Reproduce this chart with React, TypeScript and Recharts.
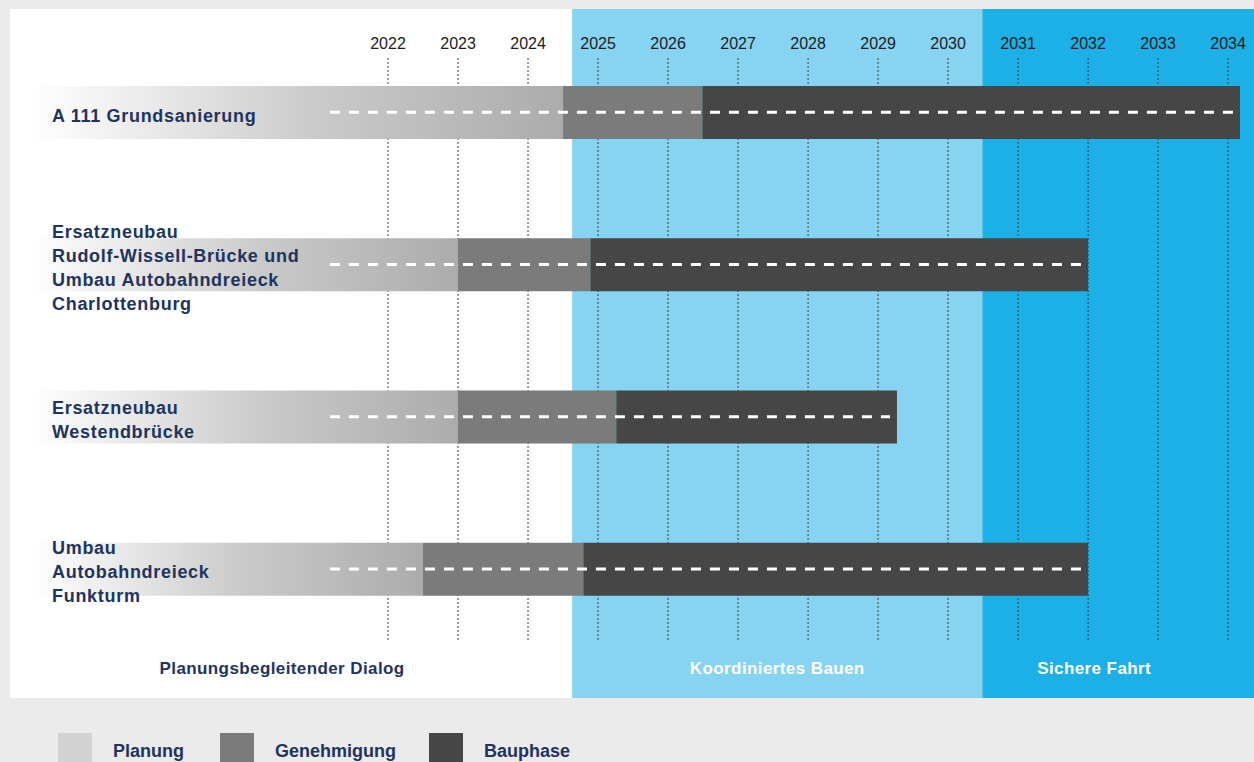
import React from 'react';
import {
  BarChart,
  Bar,
  XAxis,
  YAxis,
  ReferenceArea,
  ReferenceLine,
  LabelList,
  Legend,
} from 'recharts';

// ---------- data ----------
const projects = [
  'A 111 Grundsanierung',
  'Ersatzneubau Rudolf-Wissell-Brücke und Umbau Autobahndreieck Charlottenburg',
  'Ersatzneubau Westendbrücke',
  'Umbau Autobahndreieck Funkturm',
];
const projectLabelLines = [
  ['A 111 Grundsanierung'],
  ['Ersatzneubau', 'Rudolf-Wissell-Brücke und', 'Umbau Autobahndreieck', 'Charlottenburg'],
  ['Ersatzneubau', 'Westendbrücke'],
  ['Umbau', 'Autobahndreieck', 'Funkturm'],
];
const planningStart = [2016.9, 2016.9, 2016.9, 2016.9];
const planningEnd = [2024.5, 2023.0, 2023.0, 2022.5];
const approvalEnd = [2026.49, 2024.89, 2025.26, 2024.79];
const constructionEnd = [2034.17, 2032.0, 2029.27, 2032.0];
const roadMarkingStart = 2021.17;

const years = [2022, 2023, 2024, 2025, 2026, 2027, 2028, 2029, 2030, 2031, 2032, 2033, 2034];

const phaseNames = ['Planungsbegleitender Dialog', 'Koordiniertes Bauen', 'Sichere Fahrt'];
const phaseBounds = [2016.6, 2024.63, 2030.49, 2034.37];

const legendNames = ['Planung', 'Genehmigung', 'Bauphase'];

// ---------- styles ----------
const FONT = '"Liberation Sans", Arial, Helvetica, sans-serif';
const NAVY = '#20345f';
const PAD_TOP = 27;
const PAD_BOTTOM = 53;
const phaseFills = ['#ffffff', '#87d3f2', '#1cb0e7'];
const phaseLabelFills = [NAVY, '#ffffff', '#ffffff'];
const phaseLabelDx = [-9, 0, -24];
const legendFills = ['#d2d2d2', '#7b7b7b', '#474747'];
const legendLefts = [58, 220, 429];
const APPROVAL = '#7b7b7b';
const BUILD = '#464646';

const rows = projects.map((name, i) => ({
  name,
  offset: planningStart[i],
  planung: planningEnd[i] - planningStart[i],
  genehmigung: approvalEnd[i] - planningEnd[i],
  bauphase: constructionEnd[i] - approvalEnd[i],
}));

const YearTick = (props: any) => {
  const { x, payload } = props;
  return (
    <text
      x={x}
      y={49}
      textAnchor="middle"
      fontFamily={FONT}
      fontSize={16}
      fontWeight={500}
      fill="#1c1c1c"
    >
      {payload.value}
    </text>
  );
};

const ProjectLabel = (props: any) => {
  const { x, y, height, value } = props;
  const idx = projects.indexOf(value);
  const lines = projectLabelLines[idx] || [String(value)];
  const cy = y + height / 2 + 3;
  const top = cy - ((lines.length - 1) * 24) / 2;
  const tx = x + 21;
  return (
    <text
      x={tx}
      y={top}
      fontFamily={FONT}
      fontWeight={700}
      fontSize={18}
      letterSpacing={0.7}
      fill={NAVY}
      dominantBaseline="central"
    >
      {lines.map((l, k) => (
        <tspan key={k} x={tx} y={top + k * 24}>
          {l}
        </tspan>
      ))}
    </text>
  );
};

const gridShape = (p: any) => {
  const top = Math.min(p.y1, p.y2);
  const bottom = Math.max(p.y1, p.y2);
  return (
    <line
      x1={p.x1}
      x2={p.x2}
      y1={top + 48}
      y2={bottom - 58}
      stroke="#3c3c3c"
      strokeWidth={1}
      strokeDasharray="2 2"
    />
  );
};

const makePanelShape = (fill: string) => (p: any) => (
  <rect
    x={p.x}
    y={p.y - PAD_TOP}
    width={p.width}
    height={p.height + PAD_TOP + PAD_BOTTOM}
    fill={fill}
    stroke="none"
  />
);

const LegendContent = () => (
  <div style={{ position: 'relative', width: 700, height: 40 }}>
    {legendNames.map((n, i) => (
      <div
        key={n}
        style={{
          position: 'absolute',
          left: legendLefts[i],
          top: 11,
          display: 'flex',
          alignItems: 'center',
        }}
      >
        <div style={{ width: 34, height: 32, background: legendFills[i] }} />
        <span
          style={{
            marginLeft: 21,
            fontFamily: FONT,
            fontWeight: 700,
            fontSize: 18,
            color: NAVY,
            marginTop: 5,
          }}
        >
          {n}
        </span>
      </div>
    ))}
  </div>
);

export default function App() {
  return (
    <div
      style={{
        position: 'absolute',
        left: 0,
        top: 0,
        width: 1254,
        height: 762,
        background: '#ebebeb',
        overflow: 'hidden',
      }}
    >
      <BarChart
        width={1254}
        height={762}
        data={rows}
        layout="vertical"
        margin={{ top: 9, right: 0, bottom: 64, left: 10 }}
        barSize={53}
      >
        <defs>
          <linearGradient id="planGrad" x1="0" y1="0" x2="1" y2="0">
            <stop offset="0%" stopColor="#ffffff" />
            <stop offset="20%" stopColor="#ececec" />
            <stop offset="55%" stopColor="#c9c9c9" />
            <stop offset="100%" stopColor="#acacac" />
          </linearGradient>
        </defs>
        {phaseNames.map((name, i) => (
          <ReferenceArea
            key={name}
            x1={phaseBounds[i]}
            x2={phaseBounds[i + 1]}
            fill={phaseFills[i]}
            fillOpacity={1}
            stroke="none"
            ifOverflow="visible"
            zIndex={-200}
            shape={makePanelShape(phaseFills[i])}
            label={{
              value: name,
              position: 'insideBottom',
              offset: -29,
              dx: phaseLabelDx[i],
              fill: phaseLabelFills[i],
              fontSize: 17,
              fontWeight: 700,
              letterSpacing: 0.4,
              fontFamily: FONT,
            }}
          />
        ))}
        {years.map((yr) => (
          <ReferenceLine key={yr} x={yr} shape={gridShape} zIndex={-150} ifOverflow="visible" />
        ))}
        <XAxis
          type="number"
          domain={[phaseBounds[0], phaseBounds[3]]}
          allowDataOverflow
          ticks={years}
          orientation="top"
          height={1}
          axisLine={false}
          tickLine={false}
          tick={<YearTick />}
          interval={0}
        />
        <YAxis
          type="category"
          dataKey="name"
          hide
          width={0}
          padding={{ top: PAD_TOP - 1, bottom: PAD_BOTTOM }}
        />
        <Bar dataKey="offset" stackId="p" fill="transparent" isAnimationActive={false} />
        <Bar dataKey="planung" stackId="p" fill="url(#planGrad)" isAnimationActive={false}>
          <LabelList dataKey="name" content={<ProjectLabel />} />
        </Bar>
        <Bar dataKey="genehmigung" stackId="p" fill={APPROVAL} isAnimationActive={false} />
        <Bar dataKey="bauphase" stackId="p" fill={BUILD} isAnimationActive={false} />
        {projects.map((name, i) => (
          <ReferenceLine
            key={name}
            segment={[
              { x: roadMarkingStart, y: name },
              { x: constructionEnd[i] - 0.1, y: name },
            ]}
            stroke="#ffffff"
            strokeWidth={3}
            strokeDasharray="10 9"
            zIndex={450}
          />
        ))}
        <Legend
          layout="horizontal"
          verticalAlign="middle"
          align="center"
          wrapperStyle={{ position: 'absolute', left: 0, top: 722, width: 700, height: 40 }}
          content={<LegendContent />}
        />
      </BarChart>
    </div>
  );
}
